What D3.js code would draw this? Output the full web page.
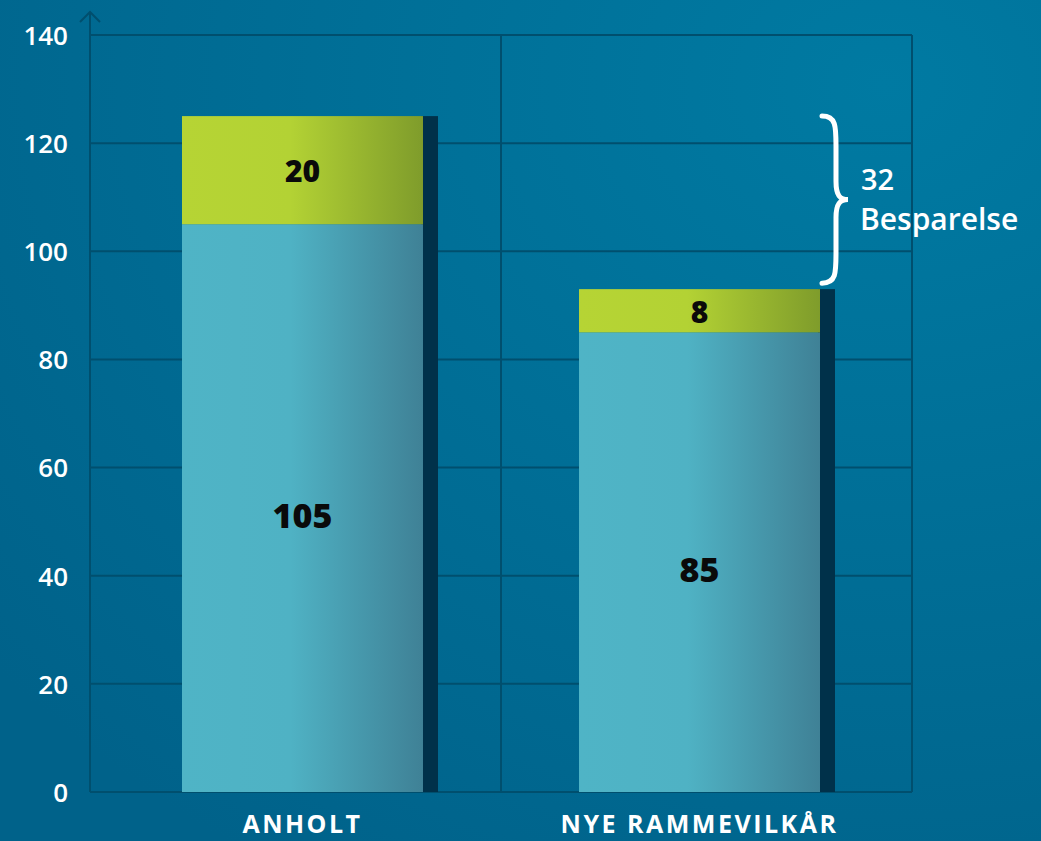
<!DOCTYPE html>
<html>
<head>
<meta charset="utf-8">
<script src="https://cdn.jsdelivr.net/npm/d3@7"></script>
<style>
  html, body { margin: 0; padding: 0; background: #006a8e; }
  #chart { width: 1041px; height: 841px; }
  text { font-family: "Open Sans", "DejaVu Sans", sans-serif; }
</style>
</head>
<body>
<div id="chart"></div>
<script>
// Datos del gráfico
const categories = ['ANHOLT', 'NYE RAMMEVILKÅR'];
const baseValues = [105, 85];
const topValues = [20, 8];
const yTicks = [0, 20, 40, 60, 80, 100, 120, 140];
const savingValue = 32;
const savingLabel = 'Besparelse';

const W = 1041, H = 841;
const margin = { top: 35, right: 129, bottom: 49, left: 90 };
const width = W - margin.left - margin.right;
const height = H - margin.top - margin.bottom;

const svg = d3.select('#chart').append('svg')
    .attr('width', W)
    .attr('height', H);

const defs = svg.append('defs');

// Fondo
const bg = defs.append('radialGradient').attr('id', 'bg')
    .attr('cx', '85%').attr('cy', '10%').attr('r', '110%');
bg.append('stop').attr('offset', '0%').attr('stop-color', '#007aa2');
bg.append('stop').attr('offset', '100%').attr('stop-color', '#00628a');
svg.append('rect').attr('width', W).attr('height', H).attr('fill', 'url(#bg)');

// Gradientes de las barras
function hGrad(id, c1, c2, c3) {
    const g = defs.append('linearGradient').attr('id', id)
        .attr('x1', '0%').attr('x2', '100%').attr('y1', '0%').attr('y2', '0%');
    g.append('stop').attr('offset', '0%').attr('stop-color', c1);
    g.append('stop').attr('offset', '45%').attr('stop-color', c2);
    g.append('stop').attr('offset', '100%').attr('stop-color', c3);
}
hGrad('blueGrad', '#4fb4c6', '#4fb2c4', '#3f8196');
hGrad('greenGrad', '#b6d434', '#b3d234', '#7f9c2b');

const g = svg.append('g').attr('transform', `translate(${margin.left},${margin.top})`);

// Escala para la rejilla (dos columnas) y escala para las barras
const x = d3.scaleBand().domain(categories).range([0, width]).padding(0);
const xBar = d3.scaleBand().domain(categories).range([92, 730]).paddingInner(0.393).paddingOuter(0);
const y = d3.scaleLinear().domain([0, 140]).range([height, 0]);

const gridColor = '#004f6e';

// Rejilla horizontal
g.append('g')
    .selectAll('line')
    .data(yTicks)
    .join('line')
    .attr('x1', 0).attr('x2', width)
    .attr('y1', d => y(d)).attr('y2', d => y(d))
    .attr('stroke', gridColor).attr('stroke-width', 2);

// Rejilla vertical
g.append('g')
    .selectAll('line')
    .data([0, x(categories[1]), width])
    .join('line')
    .attr('x1', d => d).attr('x2', d => d)
    .attr('y1', 0).attr('y2', height)
    .attr('stroke', gridColor).attr('stroke-width', 2);

// Eje Y con flecha
g.append('line')
    .attr('x1', 0).attr('x2', 0).attr('y1', -23).attr('y2', height)
    .attr('stroke', gridColor).attr('stroke-width', 2);
g.append('path')
    .attr('d', 'M-10,-13 L0,-23 L10,-13')
    .attr('fill', 'none').attr('stroke', gridColor).attr('stroke-width', 2);

const yAxis = d3.axisLeft(y).tickValues(yTicks).tickSize(0).tickPadding(22);
const ya = g.append('g').call(yAxis);
ya.select('.domain').remove();
ya.selectAll('text')
    .attr('fill', '#ffffff')
    .attr('dy', '0.36em')
    .style('font-size', '26px')
    .style('font-weight', '600');

// Barras
const barW = xBar.bandwidth();
const shadowW = 15;

const bars = g.append('g').selectAll('g')
    .data(categories.map((c, i) => ({ cat: c, base: baseValues[i], top: topValues[i] })))
    .join('g')
    .attr('transform', d => `translate(${xBar(d.cat)},0)`);

bars.append('rect')
    .attr('x', barW - 2)
    .attr('y', d => y(d.base + d.top))
    .attr('width', shadowW + 2)
    .attr('height', d => height - y(d.base + d.top))
    .attr('fill', '#00314a');

bars.append('rect')
    .attr('x', 0)
    .attr('y', d => y(d.base))
    .attr('width', barW)
    .attr('height', d => height - y(d.base))
    .attr('fill', 'url(#blueGrad)');

bars.append('rect')
    .attr('x', 0)
    .attr('y', d => y(d.base + d.top))
    .attr('width', barW)
    .attr('height', d => y(d.base) - y(d.base + d.top))
    .attr('fill', 'url(#greenGrad)');

bars.append('text')
    .attr('x', barW / 2)
    .attr('y', d => y(d.base / 2) + 20)
    .attr('text-anchor', 'middle')
    .style('font-size', '34px')
    .style('font-weight', '800')
    .attr('fill', '#0a0a0a')
    .text(d => d.base);

bars.append('text')
    .attr('x', barW / 2)
    .attr('y', d => y(d.base + d.top / 2) + 12)
    .attr('text-anchor', 'middle')
    .style('font-size', '30px')
    .style('font-weight', '800')
    .attr('fill', '#0a0a0a')
    .text(d => d.top);

// Etiquetas de categoría
g.append('g').selectAll('text')
    .data(categories)
    .join('text')
    .attr('x', d => xBar(d) + barW / 2)
    .attr('y', height + 41)
    .attr('text-anchor', 'middle')
    .attr('fill', '#ffffff')
    .style('font-size', '25px')
    .style('font-weight', '700')
    .style('letter-spacing', '2.5px')
    .text(d => d);

// Llave de ahorro
const bx = xBar(categories[1]) + barW + 2;
const yTopB = y(baseValues[0] + topValues[0]);
const yBotB = y(baseValues[1] + topValues[1]) - 6;
const yMidB = (yTopB + yBotB) / 2;
const bw = 14;
const bracePath = `M${bx},${yTopB}
  C${bx + bw},${yTopB} ${bx + bw},${yTopB + 10} ${bx + bw},${yTopB + 30}
  L${bx + bw},${yMidB - 18}
  C${bx + bw},${yMidB - 4} ${bx + bw + 4},${yMidB} ${bx + bw + 12},${yMidB}
  C${bx + bw + 4},${yMidB} ${bx + bw},${yMidB + 4} ${bx + bw},${yMidB + 18}
  L${bx + bw},${yBotB - 30}
  C${bx + bw},${yBotB - 10} ${bx + bw},${yBotB} ${bx},${yBotB}`;
g.append('path')
    .attr('d', bracePath)
    .attr('fill', 'none')
    .attr('stroke', '#ffffff')
    .attr('stroke-width', 5)
    .attr('stroke-linecap', 'round');

g.append('text')
    .attr('x', bx + bw + 25)
    .attr('y', yMidB - 10)
    .attr('fill', '#ffffff')
    .style('font-size', '29px')
    .style('font-weight', '600')
    .text(savingValue);

g.append('text')
    .attr('x', bx + bw + 24)
    .attr('y', yMidB + 30)
    .attr('fill', '#ffffff')
    .style('font-size', '30px')
    .style('font-weight', '600')
    .text(savingLabel);
</script>
</body>
</html>
